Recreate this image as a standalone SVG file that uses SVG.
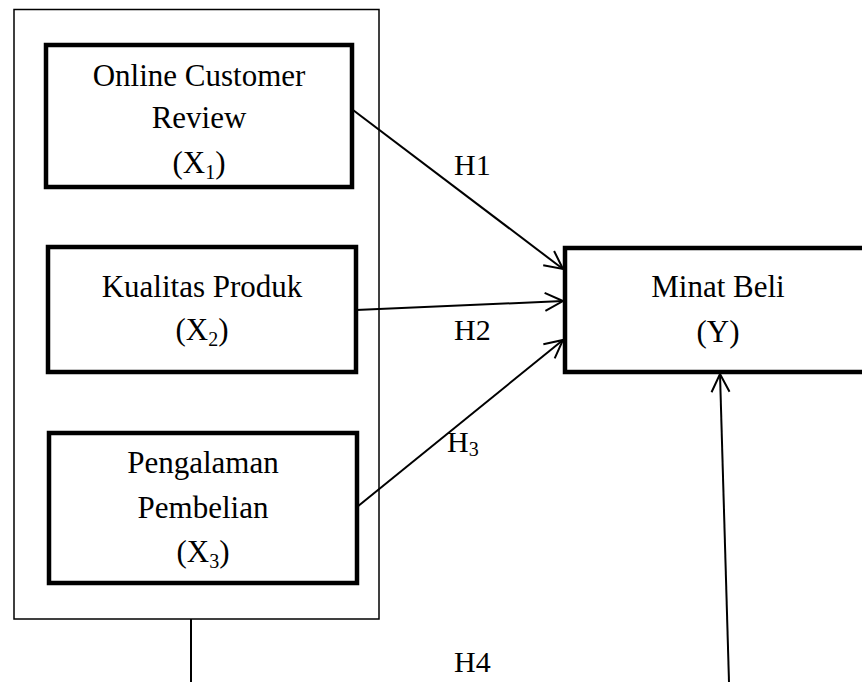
<svg xmlns="http://www.w3.org/2000/svg" width="862" height="682" viewBox="0 0 862 682">
<style>
text{font-family:"Liberation Serif","Times New Roman",serif;font-size:31px;fill:#000;text-anchor:middle}
.lbl{text-anchor:start;font-size:30px}
.box{fill:#fff;stroke:#000;stroke-width:4.5}
.outer{fill:none;stroke:#000;stroke-width:1.5}
.con{fill:none;stroke:#000;stroke-width:2}
</style>
<defs>
<marker id="arr" markerUnits="userSpaceOnUse" viewBox="-22 -12 24 24" markerWidth="24" markerHeight="24" refX="0" refY="0" orient="auto">
<path d="M-18,-9 L0,0 L-18,9" fill="none" stroke="#000" stroke-width="2"/>
</marker>
</defs>
<rect class="outer" x="14" y="9.5" width="365" height="609.5"/>
<g id="x1">
<rect class="box" x="46" y="45" width="306" height="142"/>
<text x="199" y="86">Online Customer</text>
<text x="199" y="128">Review</text>
<text x="199" y="173">(X<tspan font-size="20" dy="6">1</tspan><tspan dy="-6">)</tspan></text>
</g>
<g id="x2">
<rect class="box" x="48" y="247" width="308" height="125"/>
<text x="202" y="297">Kualitas Produk</text>
<text x="202" y="340">(X<tspan font-size="20" dy="6">2</tspan><tspan dy="-6">)</tspan></text>
</g>
<g id="x3">
<rect class="box" x="49" y="433" width="308" height="150"/>
<text x="203" y="473">Pengalaman</text>
<text x="203" y="518">Pembelian</text>
<text x="203" y="562">(X<tspan font-size="20" dy="6">3</tspan><tspan dy="-6">)</tspan></text>
</g>
<g id="y">
<rect class="box" x="565" y="248" width="310" height="124"/>
<text x="718" y="297">Minat Beli</text>
<text x="718" y="342">(Y)</text>
</g>
<g id="connectors">
<line class="con" x1="353" y1="110" x2="563" y2="269" marker-end="url(#arr)"/>
<line class="con" x1="356" y1="310" x2="563" y2="301" marker-end="url(#arr)"/>
<line class="con" x1="357" y1="507" x2="563" y2="340" marker-end="url(#arr)"/>
<line class="con" x1="191" y1="619" x2="191" y2="682"/>
<line class="con" x1="729" y1="682" x2="720" y2="374" marker-end="url(#arr)"/>
</g>
<g id="labels">
<text class="lbl" x="454" y="175">H1</text>
<text class="lbl" x="454" y="340">H2</text>
<text class="lbl" x="447" y="452">H<tspan font-size="20" dy="4">3</tspan></text>
<text class="lbl" x="454" y="672">H4</text>
</g>
</svg>
